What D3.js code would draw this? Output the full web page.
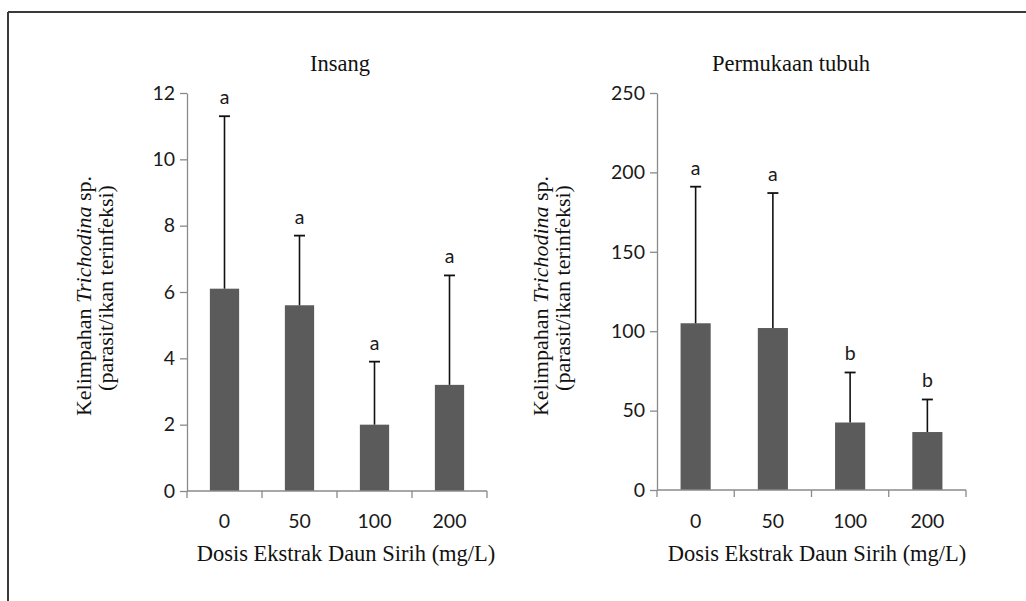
<!DOCTYPE html>
<html>
<head>
<meta charset="utf-8">
<script src="https://cdn.jsdelivr.net/npm/d3@7"></script>
<style>
html,body{margin:0;padding:0;background:#fff;}
svg{display:block;}
</style>
</head>
<body>
<svg id="chart" width="1026" height="601"></svg>
<script>
const doses = ["0", "50", "100", "200"];
const insangMean = [6.1, 5.6, 2.0, 3.2];
const insangSD = [5.2, 2.1, 1.9, 3.3];
const insangLetters = ["a", "a", "a", "a"];
const insangTicks = [0, 2, 4, 6, 8, 10, 12];
const permMean = [105, 102, 42.5, 36.5];
const permSD = [86, 85, 31.5, 20.5];
const permLetters = ["a", "a", "b", "b"];
const permTicks = [0, 50, 100, 150, 200, 250];

const svg = d3.select("#chart");
const serif = "'Liberation Serif','Times New Roman',serif";
const sans = "Lato,'Open Sans',sans-serif";
const sansSize = 19.5;

// frame (top and left edges)
svg.append("line").attr("x1", 8).attr("x2", 1026).attr("y1", 12).attr("y2", 12)
  .attr("stroke", "#3a3a3a").attr("stroke-width", 2);
svg.append("line").attr("x1", 8).attr("x2", 8).attr("y1", 12).attr("y2", 601)
  .attr("stroke", "#3a3a3a").attr("stroke-width", 2);

function panel(cfg) {
  const g = svg.append("g");
  const x = d3.scaleBand().domain(doses).range([cfg.x0, cfg.x1]).padding(0);
  const y = d3.scaleLinear().domain([0, cfg.max]).range([cfg.yb, cfg.yt]);
  const bw = x.step() * 0.39;

  // y axis
  const ya = g.append("g").attr("transform", `translate(${cfg.x0},0)`)
    .call(d3.axisLeft(y).tickValues(cfg.ticks).tickSize(7).tickSizeOuter(0).tickPadding(5));
  ya.select(".domain").attr("stroke", "#8a8a8a").attr("stroke-width", 1.3);
  ya.selectAll(".tick line").attr("stroke", "#8a8a8a").attr("stroke-width", 1.3);
  ya.selectAll(".tick text").attr("font-family", sans).attr("font-size", sansSize).attr("fill", "#1a1a1a");

  // bars
  g.selectAll("rect.bar").data(doses).enter().append("rect")
    .attr("x", (d) => x(d) + x.step() / 2 - bw / 2)
    .attr("width", bw)
    .attr("y", (d, i) => y(cfg.mean[i]))
    .attr("height", (d, i) => y(0) - y(cfg.mean[i]))
    .attr("fill", "#5b5b5b");

  // error bars
  doses.forEach((d, i) => {
    const cx = x(d) + x.step() / 2;
    const top = y(cfg.mean[i] + cfg.sd[i]);
    g.append("line").attr("x1", cx).attr("x2", cx).attr("y1", y(cfg.mean[i])).attr("y2", top)
      .attr("stroke", "#111").attr("stroke-width", 1.6);
    g.append("line").attr("x1", cx - 5.5).attr("x2", cx + 5.5).attr("y1", top).attr("y2", top)
      .attr("stroke", "#111").attr("stroke-width", 1.8);
    g.append("text").attr("x", cx).attr("y", top - 12).attr("text-anchor", "middle")
      .attr("font-family", sans).attr("font-size", sansSize).attr("fill", "#1a1a1a").text(cfg.letters[i]);
  });

  // x axis
  g.append("line").attr("x1", cfg.x0).attr("x2", cfg.x1).attr("y1", y(0)).attr("y2", y(0))
    .attr("stroke", "#8a8a8a").attr("stroke-width", 1.3);
  const bounds = doses.map((d) => x(d)).concat([cfg.x1]);
  g.selectAll("line.xt").data(bounds).enter().append("line")
    .attr("x1", (d) => d).attr("x2", (d) => d).attr("y1", y(0)).attr("y2", y(0) + 7)
    .attr("stroke", "#8a8a8a").attr("stroke-width", 1.3);
  g.selectAll("text.xl").data(doses).enter().append("text")
    .attr("x", (d) => x(d) + x.step() / 2).attr("y", 528).attr("text-anchor", "middle")
    .attr("font-family", sans).attr("font-size", sansSize).attr("fill", "#1a1a1a").text((d) => d);

  // x title
  g.append("text").attr("x", cfg.xtx).attr("y", 561).attr("text-anchor", "middle")
    .attr("font-family", serif).attr("font-size", 22.5).attr("fill", "#111")
    .text("Dosis Ekstrak Daun Sirih (mg/L)");
  // panel title
  g.append("text").attr("x", cfg.tx).attr("y", 71).attr("text-anchor", "middle")
    .attr("font-family", serif).attr("font-size", 22.5).attr("fill", "#111").text(cfg.title);

  // y title
  const t1 = g.append("text").attr("transform", `translate(${cfg.yl1},296) rotate(-90)`)
    .attr("text-anchor", "middle").attr("font-family", serif).attr("font-size", 22).attr("fill", "#111");
  t1.append("tspan").text("Kelimpahan ");
  t1.append("tspan").attr("font-style", "italic").text("Trichodina");
  t1.append("tspan").text(" sp.");
  g.append("text").attr("transform", `translate(${cfg.yl2},288) rotate(-90)`)
    .attr("text-anchor", "middle").attr("font-family", serif).attr("font-size", 22).attr("fill", "#111")
    .text("(parasit/ikan terinfeksi)");
}

panel({ x0: 187, x1: 487, yt: 93, yb: 491, max: 12, ticks: insangTicks,
  mean: insangMean, sd: insangSD, letters: insangLetters,
  title: "Insang", tx: 340, xtx: 346, yl1: 91, yl2: 113 });
panel({ x0: 657, x1: 966, yt: 93, yb: 490, max: 250, ticks: permTicks,
  mean: permMean, sd: permSD, letters: permLetters,
  title: "Permukaan tubuh", tx: 791, xtx: 817, yl1: 548, yl2: 570 });
</script>
</body>
</html>
